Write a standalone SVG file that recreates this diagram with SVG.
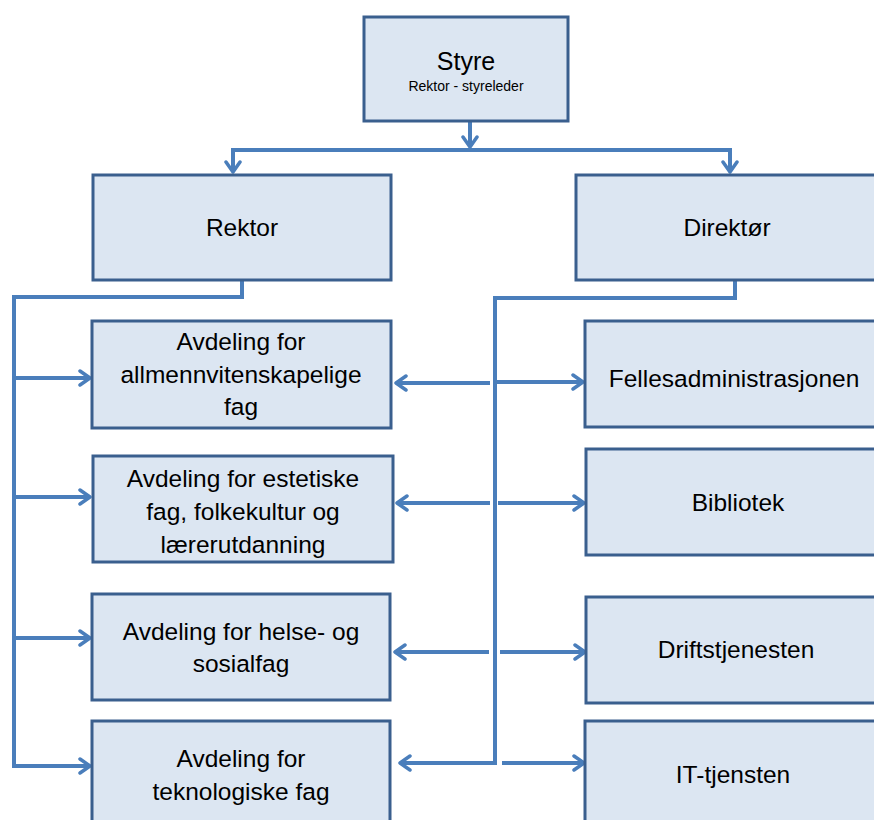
<svg xmlns="http://www.w3.org/2000/svg" width="874" height="820" viewBox="0 0 874 820">
<style>
.box{fill:#dce6f2;stroke:#3a5f8e;stroke-width:3}
.t{font-family:"Liberation Sans",Arial,sans-serif;font-size:24.5px;fill:#000;text-anchor:middle}
.s{font-family:"Liberation Sans",Arial,sans-serif;font-size:14px;fill:#000;text-anchor:middle}
.c{fill:none;stroke:#4a7ebb;stroke-width:4}
</style>
<defs>
<marker id="arr" viewBox="0 0 14 18" refX="12" refY="9" markerWidth="14" markerHeight="18" markerUnits="userSpaceOnUse" orient="auto-start-reverse">
<path d="M2,2 L12,9 L2,16" fill="none" stroke="#4a7ebb" stroke-width="3.5" stroke-linecap="round" stroke-linejoin="round"/>
</marker>
</defs>
<rect width="874" height="820" fill="#fff"/>
<g id="connectors">
<path class="c" d="M470,121 L470,147" marker-end="url(#arr)"/>
<path class="c" d="M231,150 L732,150"/>
<path class="c" d="M233,150 L233,172" marker-end="url(#arr)"/>
<path class="c" d="M730,150 L730,172" marker-end="url(#arr)"/>
<path class="c" d="M242,280 L242,297 L14,297 L14,766 L90,766" marker-end="url(#arr)"/>
<path class="c" d="M14,378 L90,378" marker-end="url(#arr)"/>
<path class="c" d="M14,497 L90,497" marker-end="url(#arr)"/>
<path class="c" d="M14,638 L90,638" marker-end="url(#arr)"/>
<path class="c" d="M735,280 L735,298 L495,298 L495,763 L400,763" marker-end="url(#arr)"/>
<path class="c" d="M502,763 L584,763" marker-end="url(#arr)"/>
<path class="c" d="M490,383 L396,383" marker-end="url(#arr)"/>
<path class="c" d="M497,382 L583,382" marker-end="url(#arr)"/>
<path class="c" d="M490,503 L397,503" marker-end="url(#arr)"/>
<path class="c" d="M498,503 L584,503" marker-end="url(#arr)"/>
<path class="c" d="M489,652 L395,652" marker-end="url(#arr)"/>
<path class="c" d="M500,652 L585,652" marker-end="url(#arr)"/>
</g>
<g id="styre">
<rect class="box" x="364" y="17" width="204" height="104"/>
<text class="t" x="466" y="70" style="font-size:25px">Styre</text>
<text class="s" x="466" y="91">Rektor - styreleder</text>
</g>
<g id="rektor">
<rect class="box" x="93" y="175" width="298" height="105"/>
<text class="t" x="242" y="236">Rektor</text>
</g>
<g id="direktor">
<rect class="box" x="576" y="175" width="310" height="105"/>
<text class="t" x="727" y="236">Direktør</text>
</g>
<g id="allmenn">
<rect class="box" x="92" y="321" width="299" height="107"/>
<text class="t" x="241" y="350">Avdeling for</text>
<text class="t" x="241" y="383">allmennvitenskapelige</text>
<text class="t" x="241" y="415">fag</text>
</g>
<g id="estetiske">
<rect class="box" x="93" y="456" width="300" height="106"/>
<text class="t" x="243" y="487">Avdeling for estetiske</text>
<text class="t" x="243" y="520">fag, folkekultur og</text>
<text class="t" x="243" y="553">lærerutdanning</text>
</g>
<g id="helse">
<rect class="box" x="92" y="594" width="298" height="106"/>
<text class="t" x="241" y="640">Avdeling for helse- og</text>
<text class="t" x="241" y="672">sosialfag</text>
</g>
<g id="teknologiske">
<rect class="box" x="92" y="721" width="298" height="110"/>
<text class="t" x="241" y="767">Avdeling for</text>
<text class="t" x="241" y="800">teknologiske fag</text>
</g>
<g id="felles">
<rect class="box" x="585" y="321" width="300" height="106"/>
<text class="t" x="734" y="387">Fellesadministrasjonen</text>
</g>
<g id="bibliotek">
<rect class="box" x="586" y="449" width="300" height="106"/>
<text class="t" x="738" y="511">Bibliotek</text>
</g>
<g id="drift">
<rect class="box" x="586" y="597" width="300" height="106"/>
<text class="t" x="736" y="658">Driftstjenesten</text>
</g>
<g id="it">
<rect class="box" x="585" y="721" width="300" height="110"/>
<text class="t" x="733" y="783">IT-tjensten</text>
</g>
</svg>
